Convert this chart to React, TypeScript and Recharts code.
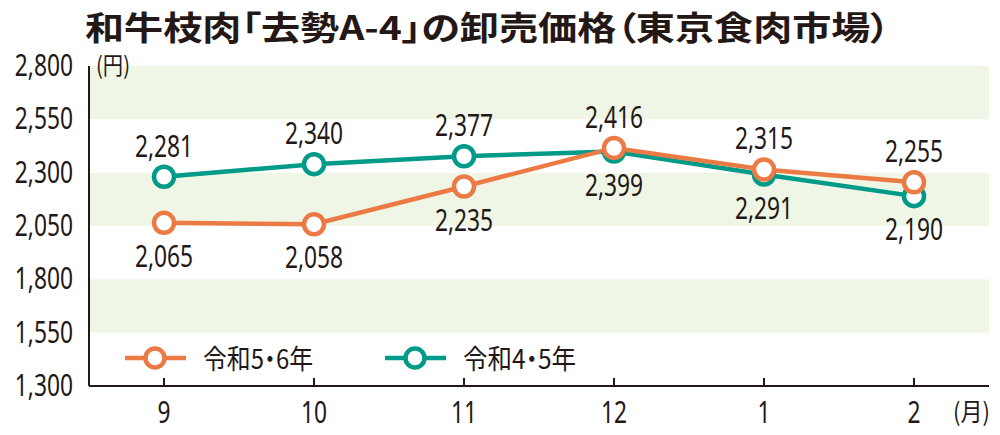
import React from 'react';
import { LineChart, Line, XAxis, YAxis, ReferenceArea, LabelList } from 'recharts';

const months = ['9', '10', '11', '12', '1', '2'];
const seriesR56 = [2065, 2058, 2235, 2416, 2315, 2255];
const seriesR45 = [2281, 2340, 2377, 2399, 2291, 2190];
const yTicks = [1300, 1550, 1800, 2050, 2300, 2550, 2800];
const bands: [number, number][] = [[2550, 2800], [2050, 2300], [1550, 1800]];

const nameR56 = '令和5・6年';
const nameR45 = '令和4・5年';
const title = '和牛枝肉「去勢A-4」の卸売価格（東京食肉市場）';

const data = months.map((m, i) => ({ month: m, r56: seriesR56[i], r45: seriesR45[i] }));

const ORANGE = '#EC7A45';
const TEAL = '#009A88';
const INK = '#231815';
const BAND = '#EFF6E6';
const NUM_FONT = "'Noto Sans', 'Open Sans', sans-serif";
const CJK_FONT = "'Noto Sans CJK JP', 'Noto Sans', sans-serif";
const SQUEEZE = 0.76;
const PALT = { fontFeatureSettings: '"palt"' };

const fmt = (v: number) => v.toLocaleString('en-US');

const NumText = ({ x, y, anchor, size = 30, children }: any) => (
  <text transform={`translate(${x},${y}) scale(${SQUEEZE},1)`} textAnchor={anchor}
    fill={INK} fontFamily={NUM_FONT} fontSize={size}>
    {children}
  </text>
);

const makeLabel = (own: number[], other: number[]) => (props: any) => {
  const { x, y, index, value } = props;
  const above = own[index] >= other[index];
  return <NumText x={x} y={above ? y - 20 : y + 44} anchor="middle">{fmt(Number(value))}</NumText>;
};

const YTick = (props: any) => {
  const { x, y, payload } = props;
  return <NumText x={x} y={y + 10} anchor="end">{fmt(payload.value)}</NumText>;
};

const XTick = (props: any) => {
  const { x, y, payload } = props;
  return (
    <g>
      <line x1={x} x2={x} y1={y - 8} y2={y} stroke={INK} strokeWidth={2} />
      <NumText x={x} y={y + 37} anchor="middle">{payload.value}</NumText>
    </g>
  );
};

const LegendItem = ({ x, color, label, width }: any) => (
  <g>
    <line x1={x} x2={x + 61} y1={358} y2={358} stroke={color} strokeWidth={4.5} />
    <circle cx={x + 30} cy={358} r={9.5} fill="#fff" stroke={color} strokeWidth={4.5} />
    <text x={x + 78} y={369} fill={INK} fontFamily={CJK_FONT} fontSize={27} textLength={width}
      lengthAdjust="spacingAndGlyphs" style={PALT}>{label}</text>
  </g>
);

export default function App() {
  return (
    <div style={{ position: 'absolute', left: 0, top: 0, width: 1000, height: 435, background: '#fff' }}>
      <LineChart width={1000} height={435} data={data}
        margin={{ top: 66, right: 11, bottom: 0, left: 0 }}>
        {bands.map(([a, b], i) => (
          <ReferenceArea key={i} y1={a} y2={b} fill={BAND} fillOpacity={1} stroke="none" ifOverflow="visible" />
        ))}
        <XAxis dataKey="month" scale="band" height={49} tickSize={0} tickMargin={0} tickLine={false}
          axisLine={{ stroke: INK, strokeWidth: 2 }} tick={<XTick />} interval={0} />
        <YAxis domain={[1300, 2800]} ticks={yTicks} width={89} tickSize={0} tickMargin={16}
          tickLine={false} axisLine={{ stroke: INK, strokeWidth: 2 }} tick={<YTick />}
          allowDataOverflow />
        <Line type="linear" dataKey="r45" name={nameR45} stroke={TEAL} strokeWidth={4.5}
          dot={{ r: 10, fill: '#fff', stroke: TEAL, strokeWidth: 4.5 }} activeDot={false}
          isAnimationActive={false}>
          <LabelList dataKey="r45" content={makeLabel(seriesR45, seriesR56)} />
        </Line>
        <Line type="linear" dataKey="r56" name={nameR56} stroke={ORANGE} strokeWidth={4.5}
          dot={{ r: 10, fill: '#fff', stroke: ORANGE, strokeWidth: 4.5 }} activeDot={false}
          isAnimationActive={false}>
          <LabelList dataKey="r56" content={makeLabel(seriesR56, seriesR45)} />
        </Line>
      </LineChart>
      <svg width={1000} height={435} style={{ position: 'absolute', left: 0, top: 0, pointerEvents: 'none' }}>
        <text x={85} y={40} fill={INK} fontFamily={CJK_FONT} fontWeight={700} fontSize={33}
          textLength={805} lengthAdjust="spacingAndGlyphs" style={PALT}>{title}</text>
        <text x={96} y={74} fill={INK} fontFamily={CJK_FONT} fontSize={24} textLength={34}
          lengthAdjust="spacingAndGlyphs">(円)</text>
        <text x={953} y={421} fill={INK} fontFamily={CJK_FONT} fontSize={25} textLength={37}
          lengthAdjust="spacingAndGlyphs">(月)</text>
        <LegendItem x={125} color={ORANGE} label={nameR56} width={110} />
        <LegendItem x={385} color={TEAL} label={nameR45} width={113} />
      </svg>
    </div>
  );
}
